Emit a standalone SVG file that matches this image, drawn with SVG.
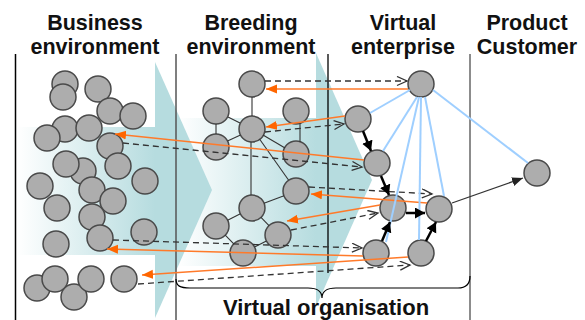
<svg xmlns="http://www.w3.org/2000/svg" width="585" height="320" viewBox="0 0 585 320">
<defs>
<linearGradient id="bodyGrad" x1="0" y1="0" x2="1" y2="0">
<stop offset="0" stop-color="#ffffff"/>
<stop offset="1" stop-color="#b6dcdf"/>
</linearGradient>
<marker id="openHead" markerUnits="userSpaceOnUse" markerWidth="14" markerHeight="12" refX="11" refY="5" orient="auto">
<path d="M1,0.5 L11,5 L1,9.5" fill="none" stroke="#333" stroke-width="1.3"/>
</marker>
<marker id="orangeHead" markerUnits="userSpaceOnUse" markerWidth="14" markerHeight="12" refX="11" refY="4.5" orient="auto">
<path d="M0,0 L11,4.5 L0,9 z" fill="#ff6600"/>
</marker>
<marker id="blackHead" markerUnits="userSpaceOnUse" markerWidth="14" markerHeight="14" refX="10" refY="5.5" orient="auto">
<path d="M0,0 L10,5.5 L0,11 z" fill="#000"/>
</marker>
<marker id="greyHead" markerUnits="userSpaceOnUse" markerWidth="14" markerHeight="12" refX="11" refY="4.5" orient="auto">
<path d="M0,0 L11,4.5 L0,9 z" fill="#222"/>
</marker>
</defs>
<style>
.hdr{font-family:"Liberation Sans",Arial,Helvetica,sans-serif;font-weight:bold;font-size:21.5px;fill:#111;text-anchor:middle}
.lbl{font-family:"Liberation Sans",Arial,Helvetica,sans-serif;font-weight:bold;font-size:22px;fill:#111;text-anchor:middle}
.node{fill:#adadad;stroke:#4a4a4a;stroke-width:1.5}
.edge{stroke:#333;stroke-width:1.1;fill:none}
.dash{stroke:#333;stroke-width:1.3;stroke-dasharray:6,4;fill:none;marker-end:url(#openHead)}
.orange{stroke:#ff7a2a;stroke-width:1.5;fill:none;marker-end:url(#orangeHead)}
.blue{stroke:#9fcfff;stroke-width:2;fill:none}
.thick{stroke:#000;stroke-width:2.5;fill:none;marker-end:url(#blackHead)}
.thin{stroke:#333;stroke-width:1.3;fill:none;marker-end:url(#greyHead)}
</style>
<rect width="585" height="320" fill="#fff"/>
<g id="background">
<rect x="177" y="118" width="139" height="148" fill="url(#bodyGrad)"/>
<polygon points="316,53 372,180 316,307" fill="#b6dcdf"/>
<rect x="17" y="127" width="138" height="128" fill="url(#bodyGrad)"/>
<polygon points="155,62 212,190 155,318" fill="#b6dcdf"/>
</g>
<g id="dividers">
<line x1="15.5" y1="54" x2="15.5" y2="320" stroke="#000" stroke-width="1.5"/>
<line x1="176" y1="54" x2="176" y2="320" stroke="#555" stroke-width="1.5"/>
<line x1="328" y1="54" x2="328" y2="273" stroke="#000" stroke-width="1.3"/>
<line x1="470" y1="54" x2="470" y2="320" stroke="#666" stroke-width="1.5"/>
<path d="M176,279 C176,286 180,288 190,288 L308,288 C318,288 322,292 322,298 C322,292 326,288 336,288 L458,288 C466,288 470,284 470,276" fill="none" stroke="#000" stroke-width="1.2"/>
</g>
<g id="headers">
<text class="hdr"><tspan x="95" y="30">Business</tspan><tspan x="95" y="54">environment</tspan></text>
<text class="hdr"><tspan x="251" y="30">Breeding</tspan><tspan x="251" y="54">environment</tspan></text>
<text class="hdr"><tspan x="403" y="30">Virtual</tspan><tspan x="403" y="54">enterprise</tspan></text>
<text class="hdr"><tspan x="527" y="30">Product</tspan><tspan x="527" y="54">Customer</tspan></text>
<text class="lbl" x="326" y="315">Virtual organisation</text>
</g>
<g id="business-nodes">
<circle id="b1" class="node" cx="65" cy="84" r="13"/>
<circle id="b2" class="node" cx="63" cy="97" r="13"/>
<circle id="b3" class="node" cx="98" cy="89" r="13"/>
<circle id="b4" class="node" cx="110" cy="111" r="13"/>
<circle id="b5" class="node" cx="133" cy="116" r="13"/>
<circle id="b6" class="node" cx="65" cy="129" r="13"/>
<circle id="b7" class="node" cx="47" cy="138" r="13"/>
<circle id="b8" class="node" cx="89" cy="128" r="13"/>
<circle id="b9" class="node" cx="110" cy="146" r="13"/>
<circle id="b10" class="node" cx="83" cy="171" r="13"/>
<circle id="b11" class="node" cx="66" cy="164" r="13"/>
<circle id="b12" class="node" cx="118" cy="166" r="13"/>
<circle id="b13" class="node" cx="145" cy="181" r="13"/>
<circle id="b14" class="node" cx="40" cy="186" r="13"/>
<circle id="b15" class="node" cx="92" cy="190" r="13"/>
<circle id="b16" class="node" cx="113" cy="201" r="13"/>
<circle id="b17" class="node" cx="57" cy="208" r="13"/>
<circle id="b18" class="node" cx="92" cy="217" r="13"/>
<circle id="b19" class="node" cx="144" cy="232" r="13"/>
<circle id="b20" class="node" cx="100" cy="238" r="13"/>
<circle id="b21" class="node" cx="56" cy="244" r="13"/>
<circle id="b22" class="node" cx="37" cy="288" r="13"/>
<circle id="b23" class="node" cx="74" cy="297" r="13"/>
<circle id="b24" class="node" cx="55" cy="279" r="13"/>
<circle id="b25" class="node" cx="91" cy="279" r="13"/>
<circle id="b26" class="node" cx="124" cy="279" r="13"/>
</g>
<g id="breeding-nodes">
<circle id="r1" class="node" cx="252" cy="84" r="13"/>
<circle id="r2" class="node" cx="216" cy="111" r="13"/>
<circle id="r3" class="node" cx="296" cy="111" r="13"/>
<circle id="r4" class="node" cx="252" cy="129" r="13"/>
<circle id="r5" class="node" cx="216" cy="147" r="13"/>
<circle id="r6" class="node" cx="296" cy="154" r="13"/>
<circle id="r7" class="node" cx="296" cy="191" r="13"/>
<circle id="r8" class="node" cx="252" cy="208" r="13"/>
<circle id="r9" class="node" cx="216" cy="226" r="13"/>
<circle id="r10" class="node" cx="278" cy="235" r="13"/>
<circle id="r11" class="node" cx="243" cy="253" r="13"/>
</g>
<g id="virtual-nodes">
<circle id="v1" class="node" cx="421" cy="84" r="13"/>
<circle id="v2" class="node" cx="358" cy="119" r="13"/>
<circle id="v3" class="node" cx="377" cy="163" r="13"/>
<circle id="v4" class="node" cx="393" cy="208" r="13"/>
<circle id="v5" class="node" cx="439" cy="209" r="13"/>
<circle id="v6" class="node" cx="376" cy="253" r="13"/>
<circle id="v7" class="node" cx="421" cy="253" r="13"/>
</g>
<g id="customer-node">
<circle id="c1" class="node" cx="537" cy="173" r="13"/>
</g>
<g id="connectors">
<g class="edges">
<line class="edge" x1="252" y1="97" x2="252" y2="116"/>
<line class="edge" x1="228" y1="117" x2="240" y2="123"/>
<line class="edge" x1="240.5" y1="135" x2="227.5" y2="141"/>
<line class="edge" x1="216" y1="124" x2="216" y2="134"/>
<line class="edge" x1="300" y1="123" x2="300" y2="142"/>
<line class="edge" x1="263" y1="135" x2="285" y2="148"/>
<line class="edge" x1="259.5" y1="139" x2="288.5" y2="180"/>
<line class="edge" x1="251" y1="142" x2="251" y2="195"/>
<line class="edge" x1="264" y1="203.3" x2="284" y2="195.7"/>
<line class="edge" x1="240.4" y1="213.8" x2="227.6" y2="220.2"/>
<line class="edge" x1="261" y1="217.4" x2="269" y2="225.6"/>
<line class="edge" x1="225.2" y1="235.2" x2="233.8" y2="243.8"/>
<line class="edge" x1="254.6" y1="247.1" x2="266.4" y2="240.9"/>
</g>
<g class="dashed">
<line class="dash" x1="265" y1="81" x2="407" y2="81"/>
<line class="dash" x1="265" y1="132" x2="344" y2="124"/>
<line class="dash" x1="123" y1="143" x2="362" y2="167"/>
<line class="dash" x1="309" y1="187" x2="432" y2="194"/>
<line class="dash" x1="291" y1="230" x2="378" y2="213"/>
<line class="dash" x1="113" y1="240" x2="362" y2="248"/>
<line class="dash" x1="138" y1="284" x2="410" y2="265"/>
</g>
<g class="feedback">
<line class="orange" x1="408" y1="89" x2="266" y2="89"/>
<line class="orange" x1="345" y1="116" x2="266" y2="127"/>
<line class="orange" x1="364" y1="160" x2="115" y2="134"/>
<line class="orange" x1="427" y1="203" x2="311" y2="194"/>
<line class="orange" x1="380" y1="205" x2="287" y2="221"/>
<line class="orange" x1="363" y1="256" x2="107" y2="249"/>
<line class="orange" x1="408" y1="257" x2="142" y2="275"/>
</g>
<g class="links">
<line class="blue" x1="410" y1="90" x2="370" y2="113"/>
<line class="blue" x1="417" y1="97" x2="383" y2="151"/>
<line class="blue" x1="419" y1="97" x2="386" y2="242"/>
<line class="blue" x1="421" y1="97" x2="419" y2="240"/>
<line class="blue" x1="425" y1="97" x2="444" y2="196"/>
<line class="blue" x1="433" y1="90" x2="528" y2="163"/>
</g>
<g class="flow">
<line class="thick" x1="363" y1="131" x2="371" y2="151"/>
<line class="thick" x1="381" y1="176" x2="389" y2="195"/>
<line class="thick" x1="406" y1="213" x2="425" y2="213"/>
<line class="thick" x1="382" y1="241" x2="390" y2="222"/>
<line class="thick" x1="426" y1="241" x2="436" y2="222"/>
<line class="thin" x1="452" y1="203" x2="523" y2="178"/>
</g>
</g>
</svg>
